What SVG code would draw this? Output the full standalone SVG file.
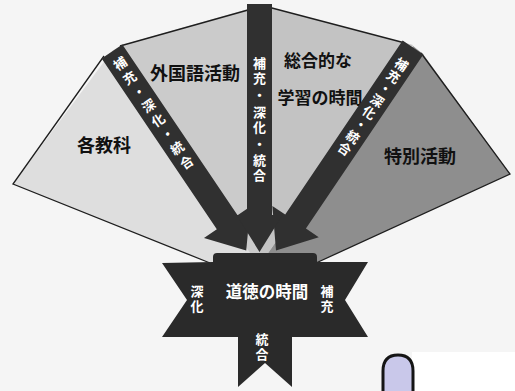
<svg xmlns="http://www.w3.org/2000/svg" width="515" height="391" viewBox="0 0 515 391">
<style>
.lbl{font-family:"Noto Sans CJK JP","Noto Sans CJK SC",sans-serif;font-weight:bold;fill:#111;text-anchor:middle;dominant-baseline:central}
.wt{font-family:"Noto Sans CJK JP","Noto Sans CJK SC",sans-serif;font-weight:bold;fill:#fff;text-anchor:middle;dominant-baseline:central;font-size:13px}
.edge{fill:none;stroke:#1e1e1e;stroke-width:1.3;stroke-linejoin:miter}
.arrow{fill:#303030}
</style>
<rect x="0" y="0" width="515" height="391" fill="#f5f5f5"/>
<rect x="412" y="352" width="103" height="39" fill="#ffffff"/>

<g id="seg-kakukyoka">
<polygon points="112,51 13,184 208,262 258,266 258,260" fill="#dedede"/>
<polyline class="edge" points="104,56 13,184 210,263"/>
<text class="lbl" x="104" y="144" font-size="18">各教科</text>
</g>
<g id="seg-gaikokugo">
<polygon points="112,51 122,45 259,6 259,266" fill="#cbcbcb"/>
<polyline class="edge" points="120,46 248,10"/>
<text class="lbl" x="195" y="72" font-size="18">外国語活動</text>
</g>
<g id="seg-sogo">
<polygon points="259,5 272,8 413,45 259,266" fill="#c3c3c3"/>
<polyline class="edge" points="270,7.5 405,43"/>
<text class="lbl" x="318" y="59" font-size="17">総合的な</text>
<text class="lbl" x="320" y="96" font-size="17">学習の時間</text>
</g>
<g id="seg-tokubetsu">
<polygon points="413,46 423,54 510,174 318,262 259,266" fill="#8e8e8e"/>
<polyline class="edge" points="421,53 510,174 316,263"/>
<text class="lbl" x="420" y="155" font-size="18">特別活動</text>
</g>

<g id="connectors">
<g transform="translate(112,51.5) rotate(-34)">
<polygon class="arrow" points="-12.5,0 12.5,0 12.5,206 28,206 0,240 -28,206 -12.5,206"/>
<text class="wt" x="0" y="14">補</text>
<text class="wt" x="0" y="31">充</text>
<text class="wt" x="0" y="48">・</text>
<text class="wt" x="0" y="65">深</text>
<text class="wt" x="0" y="82">化</text>
<text class="wt" x="0" y="99">・</text>
<text class="wt" x="0" y="116">統</text>
<text class="wt" x="0" y="133">合</text>
</g>
<g transform="translate(413,47.5) rotate(34)">
<polygon class="arrow" points="-12.5,0 12.5,0 12.5,210 28,210 0,245 -28,210 -12.5,210"/>
<text class="wt" x="0" y="20">補</text>
<text class="wt" x="0" y="34.5">充</text>
<text class="wt" x="0" y="49">・</text>
<text class="wt" x="0" y="63.5">深</text>
<text class="wt" x="0" y="78">化</text>
<text class="wt" x="0" y="92.5">・</text>
<text class="wt" x="0" y="107">統</text>
<text class="wt" x="0" y="121.5">合</text>
</g>
<g transform="translate(259.5,4)">
<polygon class="arrow" points="-12.5,0 12.5,0 12.5,211 23,211 0,248 -23,211 -12.5,211"/>
<text class="wt" x="0" y="58">補</text>
<text class="wt" x="0" y="73">充</text>
<text class="wt" x="0" y="90">・</text>
<text class="wt" x="0" y="107">深</text>
<text class="wt" x="0" y="122">化</text>
<text class="wt" x="0" y="139">・</text>
<text class="wt" x="0" y="155">統</text>
<text class="wt" x="0" y="170">合</text>
</g>
</g>

<g id="star-dotoku">
<path d="M213,262 L213,257 Q213,253 217,253 L313,253 Q317,253 317,257 L317,262 L368,262 L345,300 L368,337 L292,337 L292,387 L265,363 L238,387 L238,337 L162,337 L187,300 L162,263 Z" fill="#2a2a2a"/>
<text class="wt" x="267" y="291" style="font-size:16.5px">道徳の時間</text>
<text class="wt" x="197" y="290">深</text>
<text class="wt" x="197" y="305">化</text>
<text class="wt" x="327" y="290">補</text>
<text class="wt" x="327" y="305">充</text>
<text class="wt" x="262" y="338">統</text>
<text class="wt" x="262" y="353">合</text>
</g>

<g id="finger">
<path d="M383,392 L383,371 Q383,355 398,355 Q413,355 413,371 L413,392" fill="#c9c8ea" stroke="#151515" stroke-width="3"/>
</g>
</svg>
